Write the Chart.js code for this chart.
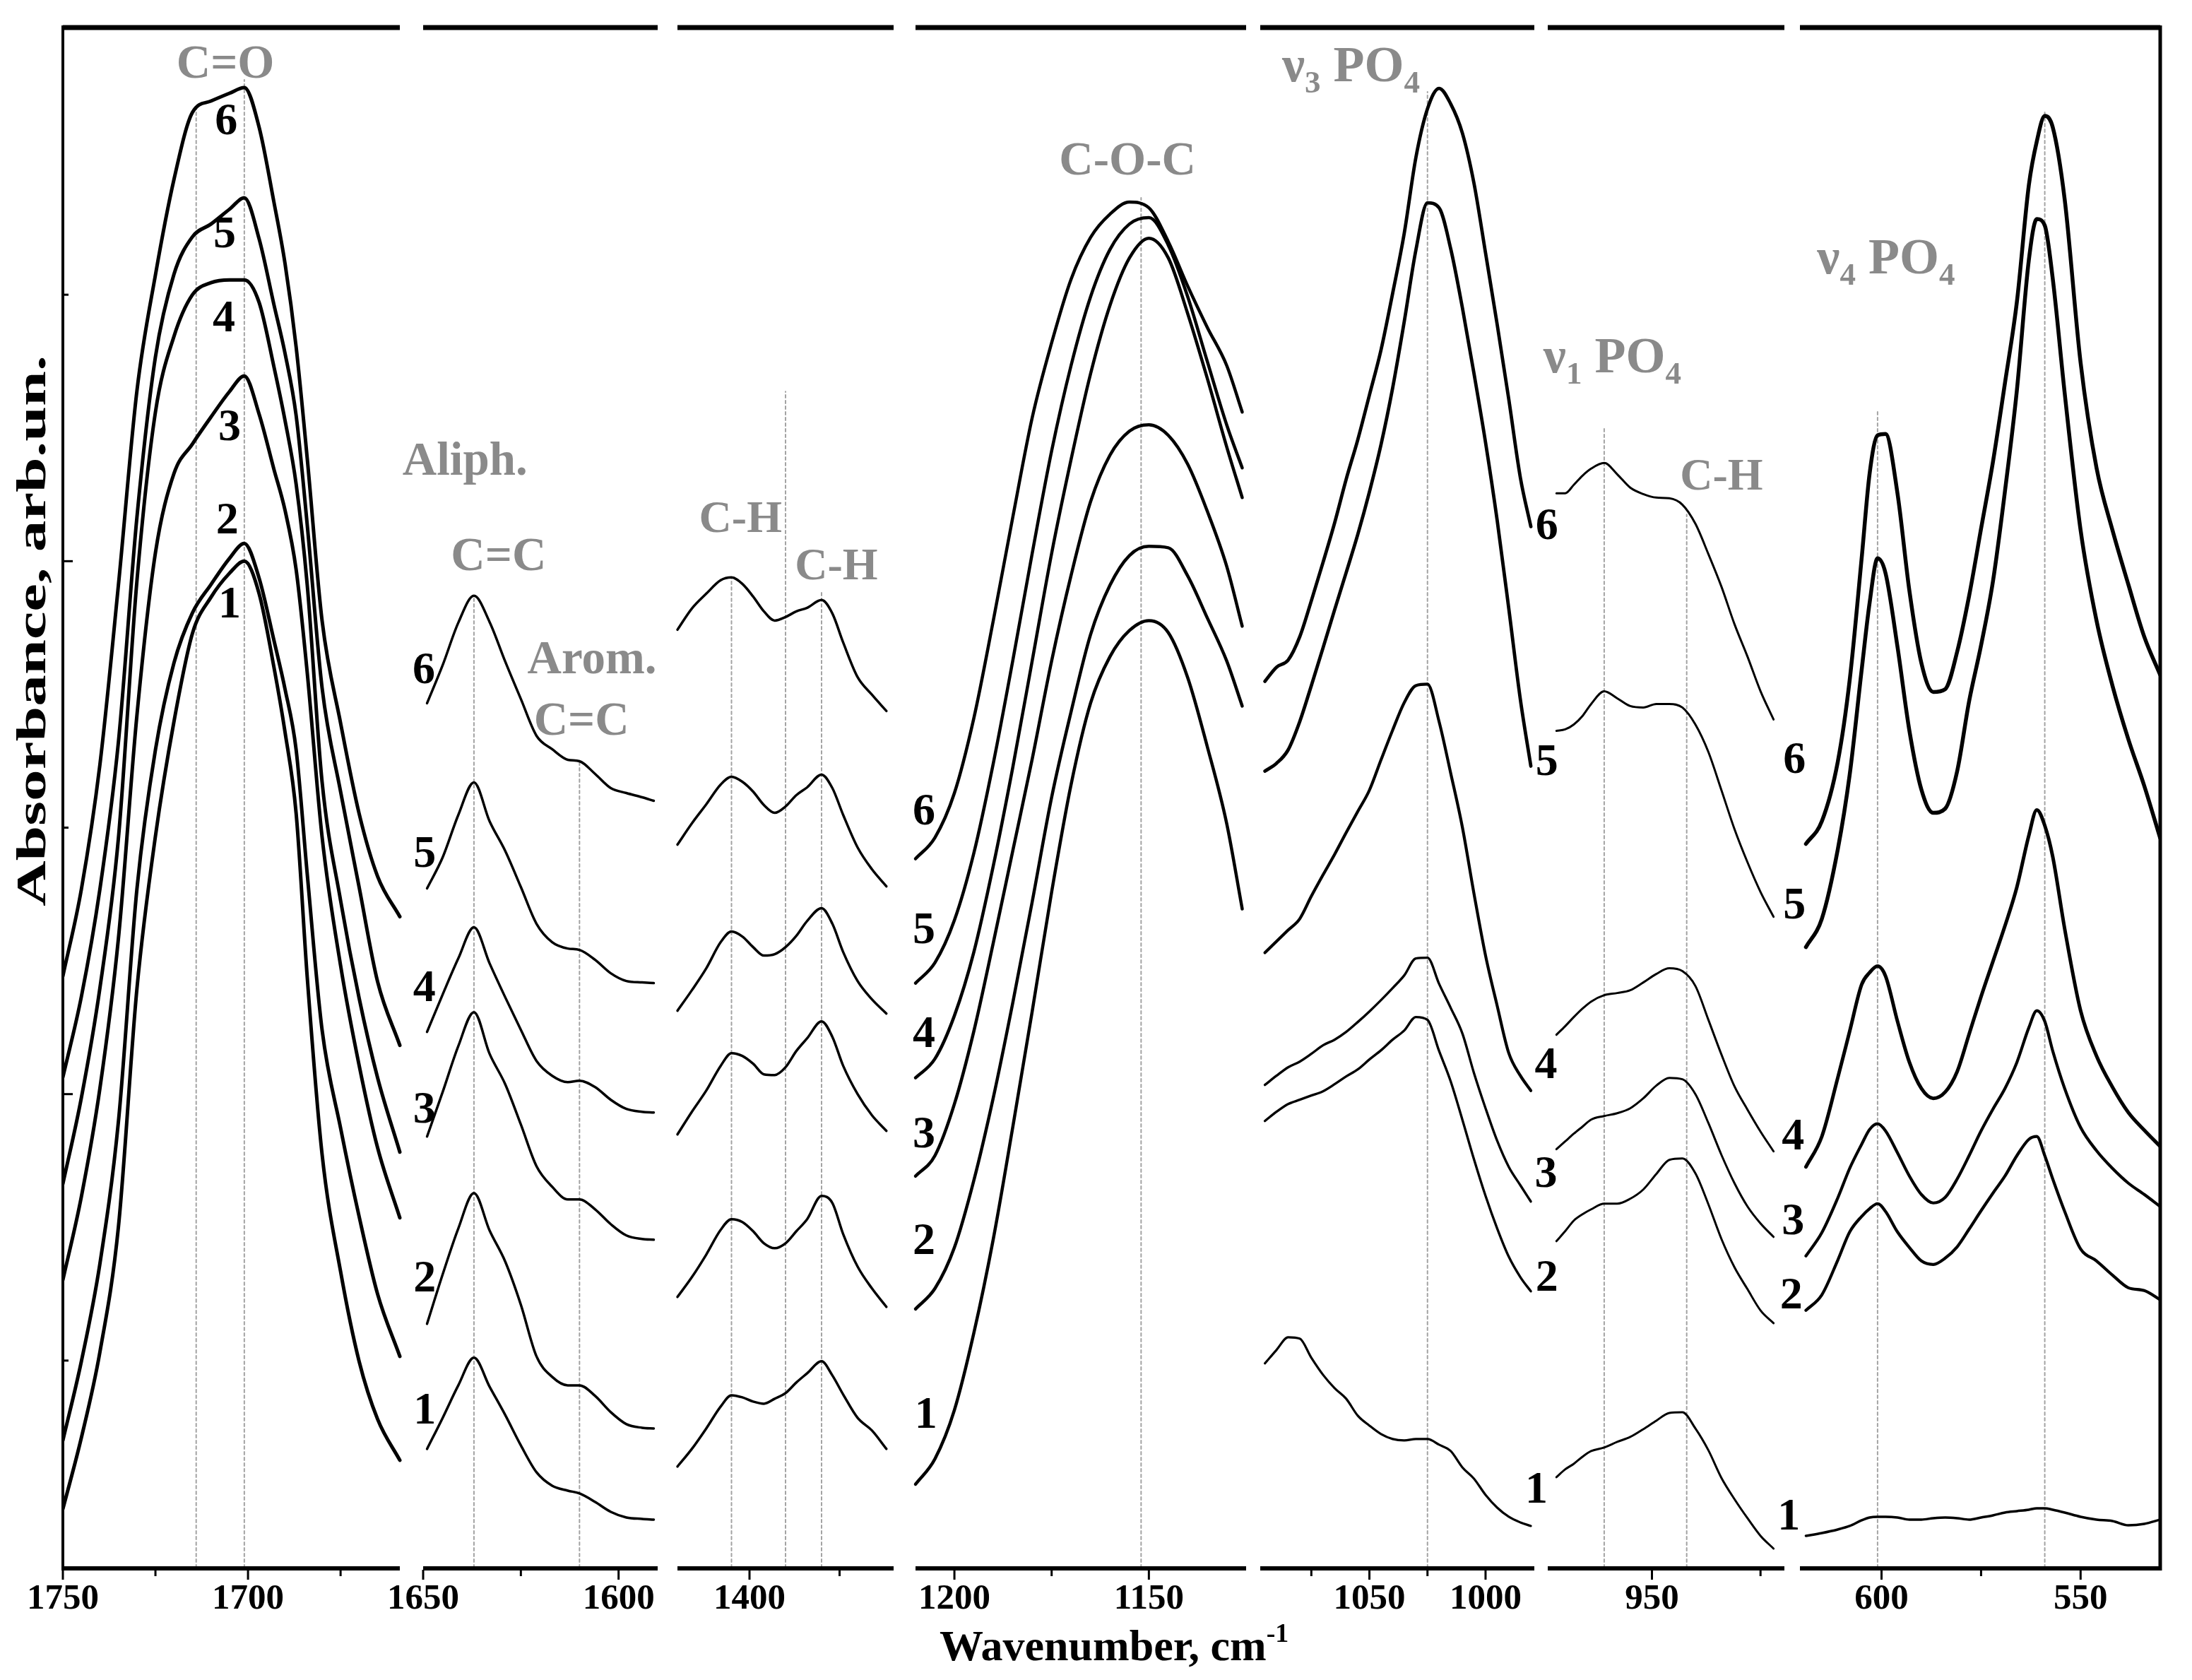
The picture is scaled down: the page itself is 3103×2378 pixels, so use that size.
<!DOCTYPE html>
<html><head><meta charset="utf-8">
<script src="https://cdn.jsdelivr.net/npm/chart.js@4.4.1/dist/chart.umd.min.js"></script>
<style>html,body{margin:0;padding:0;background:#fff;}canvas{display:block;}</style>
</head><body>
<canvas id="c" width="3103" height="2378"></canvas>
<script>
// ---------------- DATA ----------------
const p1Wn = [1750,1745,1740,1735,1730,1725,1720,1715,1710,1705,1701,1697,1693,1690,1687,1684,1680,1675,1670,1665,1659];
const p1Abs = [
 [8.3,18.4,30.5,48.2,81.9,103.5,119.7,132.2,137.3,140.7,142.4,137.8,127.4,118.2,106.7,83.5,58.5,41.9,29.2,21.0,15.2],
 [18.0,29.2,43.0,63.1,96.0,115.7,128.0,135.1,139.1,142.8,144.9,140.0,131.2,124.3,115.7,98.1,76.1,62.2,49.7,38.7,29.9],
 [40.7,52.5,67.8,89.0,120.6,143.6,154.8,159.0,162.8,166.4,168.6,163.2,155.4,149.6,141.2,126.6,103.4,85.2,71.1,59.4,49.5],
 [54.3,66.5,82.0,103.2,139.6,163.5,174.2,180.1,181.8,182.2,182.2,179.0,169.9,162.3,153.3,139.0,111.2,94.4,80.6,69.3,58.8],
 [69.4,80.8,96.0,116.8,148.6,171.3,183.0,188.3,190.1,192.2,193.8,188.0,178.7,171.8,163.0,147.5,124.5,109.8,96.3,82.9,73.9],
 [83.7,96.0,113.6,139.0,166.5,182.9,196.4,205.9,207.5,208.6,209.4,203.8,193.2,184.5,172.7,156.9,134.0,119.5,106.7,97.8,92.1]
];
const p2Wn = [1649,1645,1641,1637,1633,1629,1625,1621,1617,1613,1610,1606,1602,1598,1594,1591];
const p2Abs = [
 [16.8,21.2,25.8,29.7,25.6,21.6,17.3,13.5,11.6,10.9,10.5,9.3,7.9,7.1,6.9,6.8],
 [34.5,41.5,48.0,53.0,47.7,43.3,37.2,29.9,27.0,25.8,25.8,24.3,22.0,20.3,19.8,19.7],
 [61.0,67.3,73.8,78.6,72.7,68.4,62.7,56.8,53.9,52.1,52.1,50.7,48.6,47.0,46.5,46.4],
 [75.8,81.1,86.2,90.6,85.5,80.7,76.1,71.7,69.6,68.7,68.9,68.0,66.2,64.9,64.5,64.4],
 [96.1,100.5,106.5,111.1,105.6,101.4,96.3,91.1,88.5,87.6,87.4,86.0,84.1,83.0,82.8,82.7],
 [122.3,127.7,133.7,137.5,133.8,128.2,122.9,117.7,115.8,114.3,114.1,112.3,110.3,109.6,109.0,108.5]
];
const p3Wn = [1420,1416,1412,1408,1405,1402,1399,1396,1393,1390,1387,1384,1380,1377,1374,1370,1366,1362];
const p3Abs = [
 [14.3,16.8,19.7,22.8,24.4,24.1,23.5,23.2,23.9,24.7,26.2,27.5,29.2,27.2,24.5,21.2,19.4,16.8],
 [38.3,41.1,44.3,47.8,49.3,48.9,47.6,45.9,45.2,45.9,47.6,49.3,52.6,51.6,47.2,42.6,39.5,36.9],
 [61.3,64.5,67.5,71.0,72.8,72.4,71.3,69.8,69.7,70.8,73.1,74.9,77.3,75.1,71.0,67.0,64.0,61.8],
 [78.8,81.7,84.8,88.5,90.0,89.3,87.8,86.6,86.8,87.8,89.4,91.5,93.3,91.1,87.1,83.0,80.4,78.4],
 [102.3,105.3,108.0,110.8,111.9,111.2,109.8,107.9,106.8,107.7,109.3,110.4,112.2,110.3,106.5,101.9,98.8,96.4],
 [132.7,135.7,137.8,139.7,140.1,139.2,137.4,135.3,134.0,134.5,135.3,135.8,136.9,135.0,130.9,126.0,123.5,121.2]
];
const p4Wn = [1210,1205,1200,1195,1190,1185,1180,1175,1170,1165,1160,1155,1150,1145,1140,1135,1130,1126];
const p4Abs = [
 [11.8,15.4,22.3,33.2,46.5,62.3,78.7,95.6,110.8,122.3,128.9,132.6,134.0,132.3,125.9,116.2,105.3,93.2],
 [36.6,39.5,45.3,54.8,66.5,79.9,94.2,109.0,121.1,132.0,139.0,143.2,144.5,144.3,140.3,134.4,128.3,121.9],
 [55.4,58.3,65.6,75.9,88.4,101.4,114.4,128.3,140.4,150.8,157.4,160.8,161.7,160.2,156.1,149.5,141.7,133.2],
 [69.3,72.0,78.1,87.1,99.3,113.2,128.3,143.5,156.8,168.9,178.6,185.3,188.1,185.3,177.4,168.3,158.6,151.4],
 [82.7,85.6,91.6,101.1,113.8,128.3,143.5,158.0,170.1,179.8,186.5,190.1,191.0,187.1,179.8,170.7,161.7,155.6],
 [100.3,103.3,109.6,120.2,134.0,148.6,162.7,173.3,182.3,188.2,191.5,193.2,192.4,187.6,181.3,175.5,170.1,163.5]
];
const p5Wn = [1095,1090,1085,1080,1075,1070,1065,1060,1055,1050,1045,1040,1035,1030,1025,1020,1015,1010,1005,1000,995,990,985,980.5];
const p5Abs = [
 [28.9,30.8,32.6,32.4,29.7,27.3,25.4,23.9,21.5,20.1,18.9,18.2,18.0,18.2,18.2,17.4,16.5,14.2,12.6,10.3,8.5,7.2,6.4,5.9],
 [63.2,64.5,65.6,66.2,66.8,67.4,68.4,69.5,70.5,71.9,73.2,74.7,76.0,77.9,77.5,73.1,68.8,63.4,57.8,52.6,48.0,44.0,41.1,39.1],
 [68.3,69.6,70.8,71.6,72.7,73.9,74.7,75.8,77.2,78.7,80.3,82.0,83.8,86.2,86.3,82.6,79.2,75.6,70.0,65.0,60.4,56.7,54.1,51.8],
 [87.0,88.6,90.2,91.8,95.0,98.0,100.9,104.0,107.0,110.0,114.3,118.5,122.4,124.8,125.0,119.7,112.4,104.8,95.4,86.6,79.5,72.8,69.6,67.5],
 [112.7,113.8,115.7,119.7,124.8,130.1,135.5,140.8,146.2,152.2,158.9,166.9,176.3,186.4,193.1,192.4,186.6,178.3,169.0,159.2,148.2,135.7,122.8,113.4],
 [125.4,127.4,128.4,131.7,136.8,142.2,147.8,154.0,159.6,165.9,172.3,180.3,188.8,199.5,206.4,209.3,207.1,203.0,195.9,186.0,175.9,165.3,154.2,147.3]
];
const p6Wn = [972,970,968,966,964,961,958,955,952,949,946,943,940,937,934,931,928,925,922];
const p6Abs = [
 [12.8,13.9,14.7,15.7,16.5,17.0,17.8,18.5,19.6,20.8,21.9,22.0,19.7,16.6,12.7,9.7,7.0,4.5,2.7],
 [46.2,47.6,49.1,50.0,50.7,51.5,51.5,52.2,53.5,55.7,57.7,57.9,55.8,51.4,46.5,42.5,39.4,36.4,34.6],
 [59.2,60.3,61.4,62.4,63.4,63.9,64.3,65.0,66.4,68.2,69.3,69.1,67.0,62.9,58.4,54.4,51.1,48.7,46.8],
 [75.4,76.6,77.9,79.1,80.1,81.0,81.3,81.7,82.8,84.0,84.8,84.4,82.3,77.5,72.6,68.1,64.8,61.7,58.9],
 [118.4,118.6,119.3,120.5,122.2,124.0,123.0,121.9,121.7,122.2,122.2,121.7,119.3,115.4,110.0,104.5,99.8,95.6,92.1],
 [152.0,152.0,153.2,154.5,155.5,156.3,154.7,152.8,151.9,151.4,151.3,150.4,147.7,143.4,138.8,133.5,128.9,124.0,120.0]
];
const p7Wn = [619,615,611,608,605,603,601,599,596,593,590,587,584,581,578,575,572,569,566,563,561,559,557,554,550,546,542,538,534,530];
const p7Abs = [
 [4.5,4.9,5.4,5.9,6.7,7.1,7.2,7.2,7.1,6.8,6.8,7.0,7.1,7.0,6.8,7.1,7.4,7.8,8.0,8.2,8.4,8.4,8.2,7.8,7.2,6.8,6.6,6.0,6.2,6.8],
 [36.4,38.6,43.5,47.5,49.7,50.8,51.5,50.4,47.5,45.3,43.4,42.9,43.8,45.4,47.9,50.5,53.0,55.4,58.3,60.6,61.0,58.3,55.0,50.4,45.1,43.4,41.4,39.6,39.2,37.9],
 [44.1,47.4,52.3,56.5,59.9,62.0,62.8,61.8,58.7,55.4,52.8,51.6,52.4,55.0,58.3,61.8,64.9,67.8,71.5,76.4,78.8,77.3,73.1,67.8,62.3,59.0,56.5,54.4,52.8,51.1],
 [56.7,61.0,69.3,75.9,82.5,84.2,85.1,83.7,77.3,71.5,67.8,66.4,67.3,70.2,75.5,80.8,85.8,90.8,96.3,103.6,107.2,105.0,100.6,90.4,78.8,72.4,68.0,64.4,61.9,59.6],
 [87.8,91.8,101.6,112.2,127.0,136.5,142.8,140.7,130.3,118.4,110.1,106.8,107.4,112.7,122.6,130.5,139.6,152.3,166.6,185.0,190.8,189.9,182.4,166.2,146.8,134.0,124.8,117.2,110.6,103.2],
 [102.4,105.6,114.0,125.6,142.8,154.8,160.2,160.4,152.0,138.2,128.0,123.9,124.3,129.6,137.5,147.0,156.5,167.6,179.1,195.6,201.8,205.4,203.8,193.6,170.5,155.6,146.8,139.1,131.7,126.3]
];

// axis breaks: wavenumber range of every panel
const segHi = [1750, 1650, 1420, 1210, 1097, 974, 620.5];
const segLo = [1659, 1590, 1360, 1125, 979, 919.5, 530];
const majorTicks = [[1750,1700],[1650,1600],[1400],[1200,1150],[1050,1000],[950],[600,550]];
const minorTicks = [[1725,1675],[1625],[1375],[1175],[1075,1025],[925],[575]];
const yMajorTicks = [67.0, 142.4];
const yMinorTicks = [29.3, 104.7, 180.1];

// dotted peak markers
const markerPanel = [1,1,2,2,3,3,3,4,5,6,6,7,7];
const markerWn  = [1714,1701,1637,1610,1405,1390,1380,1152,1025,961,942,601,559];
const markerTop = [206.6,210.5,137.1,114.3,140.1,166.4,138.1,193.8,208.8,161.5,149.0,163.9,206.2];

// band annotations
const noteText  = ['C=O','Aliph.','C=C','Arom.','C=C','C-H','C-H','C-O-C','ν_3 PO_4','ν_1 PO_4','C-H','ν_4 PO_4'];
const notePanel = [1,2,2,2,2,3,3,4,5,6,6,7];
const noteWn    = [1706.1,1639.3,1630.7,1606.8,1609.5,1402.5,1375.9,1155.5,1087.6,975.0,934.0,616.2];
const noteAbs   = [210.8,154.6,141.1,126.5,117.8,146.5,139.8,197.1,210.3,169.1,152.5,183.1];
const noteAlign = ['center','center','center','center','center','center','center','center','left','left','center','left'];

// curve number labels (1..6)
const curveNames = ['1','2','3','4','5','6'];
const labPanel = [1, 2, 4, 6, 6];
const labWn = [
 [1705.0,1705.6,1705.0,1706.5,1706.3,1705.9],
 [1649.6,1649.6,1649.7,1649.7,1649.6,1649.8],
 [1207.3,1207.8,1207.8,1207.8,1207.8,1207.8],
 [976.6,974.2,974.4,974.4,974.2,974.2],
 [918.5,917.9,917.5,917.5,917.2,917.2]
];
const labAbs = [
 [136.1,148.0,161.2,176.6,188.5,204.5],
 [22.0,40.7,64.6,81.8,100.8,126.8],
 [21.4,46.0,61.1,75.3,90.0,106.8],
 [10.8,40.8,55.5,70.9,113.8,147.2],
 [7.0,38.3,48.8,60.8,93.5,114.1]
];

// ---------------- LAYOUT / STYLE ----------------
const W = 3103, H = 2378;
const PAD = {left: 89, top: 40, right: 45, bottom: 159};
const segPx = [[89,566],[599,931],[959,1265],[1296,1764],[1784,2172],[2191,2526],[2548,3058]];
const lineWidths = [
 [5,5,5,5,5,5],[3.5,3.5,3.5,3.5,3.5,3.5],[3.5,3.5,3.5,3.5,3.5,3.5],[4.5,4.5,4.5,4.5,4.5,4.5],
 [3.2,3.4,3.4,4.2,4.8,4.8],[3,3,3,3,3,3],[3.5,4.2,4.2,5,5.5,5.5]
];
const FONT = '"Liberation Serif","Times New Roman",serif';
const GRAY = '#8a8a8a';

const panelWn = [p1Wn,p2Wn,p3Wn,p4Wn,p5Wn,p6Wn,p7Wn];
const panelAbs = [p1Abs,p2Abs,p3Abs,p4Abs,p5Abs,p6Abs,p7Abs];

// scales: one reversed linear x axis per panel, sharing the plot area
const L = PAD.left, PW = W - PAD.left - PAD.right;
const scales = { y: {type:'linear', min:0, max:217.8, display:false} };
for (let p = 0; p < 7; p++) {
  const k = (segPx[p][1] - segPx[p][0]) / (segHi[p] - segLo[p]);
  const max = segHi[p] + (segPx[p][0] - L) / k;
  const min = max - PW / k;
  scales['x' + (p + 1)] = {type:'linear', reverse:true, min, max, display:false};
}

const datasets = [];
for (let p = 0; p < 7; p++) {
  for (let c = 0; c < 6; c++) {
    datasets.push({
      data: panelWn[p].map((w, i) => ({x: w, y: panelAbs[p][c][i]})),
      xAxisID: 'x' + (p + 1), yAxisID: 'y',
      borderColor: '#000', borderWidth: lineWidths[p][c],
      pointRadius: 0, fill: false, cubicInterpolationMode: 'monotone', order: 0
    });
  }
}
for (let m = 0; m < markerWn.length; m++) {
  datasets.push({
    data: [{x: markerWn[m], y: 0}, {x: markerWn[m], y: markerTop[m]}],
    xAxisID: 'x' + markerPanel[m], yAxisID: 'y',
    borderColor: '#a3a3a3', borderWidth: 2, borderDash: [4, 4],
    pointRadius: 0, fill: false, tension: 0, order: 1
  });
}

function parseRich(str) {
  const parts = []; let buf = ''; let i = 0;
  while (i < str.length) {
    const ch = str[i];
    if (ch === '_' || ch === '^') {
      if (buf) { parts.push({t: buf, k: ''}); buf = ''; }
      let t = '';
      if (str[i + 1] === '{') { const j = str.indexOf('}', i); t = str.slice(i + 2, j); i = j + 1; }
      else { t = str[i + 1]; i += 2; }
      parts.push({t, k: ch});
    } else { buf += ch; i++; }
  }
  if (buf) parts.push({t: buf, k: ''});
  return parts;
}
function drawRich(ctx, str, x, y, size, align, color) {
  const parts = parseRich(str);
  const small = Math.round(size * 0.62);
  let total = 0;
  for (const p of parts) {
    ctx.font = `bold ${p.k ? small : size}px ${FONT}`;
    p.w = ctx.measureText(p.t).width; total += p.w;
  }
  let cx = align === 'center' ? x - total / 2 : (align === 'right' ? x - total : x);
  ctx.fillStyle = color; ctx.textAlign = 'left'; ctx.textBaseline = 'alphabetic';
  for (const p of parts) {
    ctx.font = `bold ${p.k ? small : size}px ${FONT}`;
    const dy = p.k === '_' ? size * 0.22 : (p.k === '^' ? -size * 0.42 : 0);
    ctx.fillText(p.t, cx, y + dy); cx += p.w;
  }
}

const framePlugin = {
  id: 'frame',
  afterDatasetsDraw(chart) {
    const ctx = chart.ctx, ca = chart.chartArea, ys = chart.scales.y;
    const seg = (x1, y1, x2, y2) => { ctx.beginPath(); ctx.moveTo(x1, y1); ctx.lineTo(x2, y2); ctx.stroke(); };
    ctx.save();
    ctx.strokeStyle = '#000'; ctx.lineCap = 'butt';
    // left axis and right border
    ctx.lineWidth = 4; seg(ca.left, ca.top - 4, ca.left, ca.bottom + 4);
    ctx.lineWidth = 5; seg(ca.right, ca.top - 4, ca.right, ca.bottom + 4);
    // y ticks (inward)
    ctx.lineWidth = 3;
    yMajorTicks.forEach(v => { const y = ys.getPixelForValue(v); seg(ca.left, y, ca.left + 14, y); });
    yMinorTicks.forEach(v => { const y = ys.getPixelForValue(v); seg(ca.left, y, ca.left + 8, y); });
    for (let p = 0; p < 7; p++) {
      const sx = chart.scales['x' + (p + 1)];
      const a = sx.getPixelForValue(segHi[p]), b = sx.getPixelForValue(segLo[p]);
      ctx.lineWidth = 7; seg(a, ca.top - 1, b, ca.top - 1);
      ctx.lineWidth = 6; seg(a, ca.bottom + 1, b, ca.bottom + 1);
      ctx.lineWidth = 3;
      majorTicks[p].forEach(v => { const x = sx.getPixelForValue(v); seg(x, ca.bottom + 3, x, ca.bottom + 17); });
      minorTicks[p].forEach(v => { const x = sx.getPixelForValue(v); seg(x, ca.bottom + 3, x, ca.bottom + 12); });
      ctx.fillStyle = '#000'; ctx.font = `bold 51px ${FONT}`; ctx.textAlign = 'center'; ctx.textBaseline = 'alphabetic';
      majorTicks[p].forEach(v => { ctx.fillText(String(v), sx.getPixelForValue(v), ca.bottom + 58); });
    }
    // axis titles
    drawRich(ctx, 'Wavenumber, cm^{-1}', 1330, ca.bottom + 131, 62, 'left', '#000');
    ctx.save();
    ctx.translate(64, 893); ctx.rotate(-Math.PI / 2);
    ctx.font = `bold 60px ${FONT}`; ctx.fillStyle = '#000'; ctx.textAlign = 'center'; ctx.textBaseline = 'alphabetic';
    const yt = 'Absorbance, arb.un.';
    const tw = ctx.measureText(yt).width;
    ctx.scale(780 / tw, 1);
    ctx.fillText(yt, 0, 0);
    ctx.restore();
    // band annotations
    for (let i = 0; i < noteText.length; i++) {
      const sx = chart.scales['x' + notePanel[i]];
      const size = noteText[i].indexOf('ν') === 0 ? 72 : (noteText[i] === 'C-H' ? 64 : 67);
      drawRich(ctx, noteText[i], sx.getPixelForValue(noteWn[i]), ys.getPixelForValue(noteAbs[i]), size, noteAlign[i], GRAY);
    }
    // curve numbers
    ctx.fillStyle = '#000'; ctx.font = `bold 64px ${FONT}`; ctx.textAlign = 'center'; ctx.textBaseline = 'middle';
    for (let g = 0; g < labPanel.length; g++) {
      const sx = chart.scales['x' + labPanel[g]];
      for (let c = 0; c < 6; c++) {
        ctx.fillText(curveNames[c], sx.getPixelForValue(labWn[g][c]), ys.getPixelForValue(labAbs[g][c]));
      }
    }
    ctx.restore();
  }
};

new Chart(document.getElementById('c'), {
  type: 'line',
  data: { datasets },
  options: {
    responsive: false, animation: false, devicePixelRatio: 1, events: [],
    layout: { padding: PAD },
    plugins: { legend: {display: false}, tooltip: {enabled: false} },
    elements: { line: {borderCapStyle: 'round', borderJoinStyle: 'round'}, point: {radius: 0} },
    scales
  },
  plugins: [framePlugin]
});
</script>
</body></html>
